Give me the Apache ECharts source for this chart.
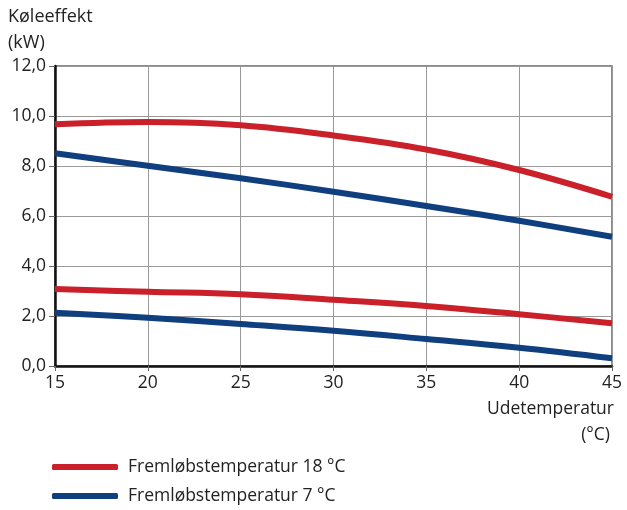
<!DOCTYPE html>
<html>
<head>
<meta charset="utf-8">
<script src="https://cdn.jsdelivr.net/npm/echarts@6/dist/echarts.min.js"></script>
<style>
  html, body { margin: 0; padding: 0; background: #fff; }
  #chart { width: 627px; height: 510px; }
</style>
</head>
<body>
<div id="chart"></div>
<script>
// data
const temps = [15, 20, 25, 30, 35, 40, 45]
const max18 = [9.67, 9.76, 9.63, 9.22, 8.66, 7.84, 6.77]
const max7 = [8.51, 8.01, 7.51, 6.97, 6.40, 5.81, 5.17]
const min18 = [3.08, 2.97, 2.87, 2.65, 2.40, 2.07, 1.71]
const min7 = [2.13, 1.93, 1.68, 1.41, 1.08, 0.73, 0.31]
const name18 = 'Fremløbstemperatur 18 °C'
const name7 = 'Fremløbstemperatur 7 °C'

const red = '#c9202a'
const blue = '#0f3f7f'
const font = 'Open Sans'

const pairs = arr => temps.map((t, i) => [t, arr[i]])

const line = (name, data, color) => ({
  name,
  type: 'line',
  data: pairs(data),
  smooth: 0.4,
  symbol: 'none',
  lineStyle: { color, width: 6 },
  itemStyle: { color },
})

const legendText = { fontSize: 17.5, color: '#222', fontFamily: font, padding: [0, 0, 0, 5] }

const chart = echarts.init(document.getElementById('chart'))
chart.setOption({
  animation: false,
  textStyle: { fontFamily: font },
  grid: {
    left: 55, right: 15, top: 66, bottom: 144,
    show: true, borderColor: '#666', borderWidth: 1.5,
  },
  graphic: [
    { type: 'text', left: 8, top: 8, style: { text: 'Køleeffekt', font: '18px ' + font, fill: '#222' } },
    { type: 'text', left: 8, top: 34, style: { text: '(kW)', font: '18px ' + font, fill: '#222' } },
    { type: 'text', right: 13, top: 400, style: { text: 'Udetemperatur', font: '17.5px ' + font, fill: '#222' } },
    { type: 'text', right: 17, top: 426, style: { text: '(°C)', font: '17.5px ' + font, fill: '#222' } },
  ],
  legend: [
    {
      left: 52, top: 458, padding: 0,
      itemWidth: 66, itemHeight: 6,
      icon: 'roundRect',
      textStyle: legendText,
      data: [name18],
    },
    {
      left: 52, top: 487, padding: 0,
      itemWidth: 66, itemHeight: 6,
      icon: 'roundRect',
      textStyle: legendText,
      data: [name7],
    },
  ],
  xAxis: {
    type: 'value', min: 15, max: 45, interval: 5,
    axisLine: { show: true, onZero: false, lineStyle: { color: '#111', width: 2.5 } },
    axisTick: { show: true, length: 5, lineStyle: { color: '#666' } },
    axisLabel: { color: '#222', fontSize: 17.5, margin: 8 },
    splitLine: { show: true, lineStyle: { color: '#999', width: 1 } },
  },
  yAxis: {
    type: 'value', min: 0, max: 12, interval: 2,
    axisLine: { show: true, lineStyle: { color: '#111', width: 2.5 } },
    axisTick: { show: true, length: 6, lineStyle: { color: '#666' } },
    axisLabel: {
      color: '#222', fontSize: 17.5, margin: 9,
      formatter: v => v.toFixed(1).replace('.', ','),
    },
    splitLine: { show: true, lineStyle: { color: '#999', width: 1 } },
  },
  series: [
    line(name18, max18, red),
    line(name7, max7, blue),
    line(name18, min18, red),
    line(name7, min7, blue),
  ],
})
</script>
</body>
</html>
